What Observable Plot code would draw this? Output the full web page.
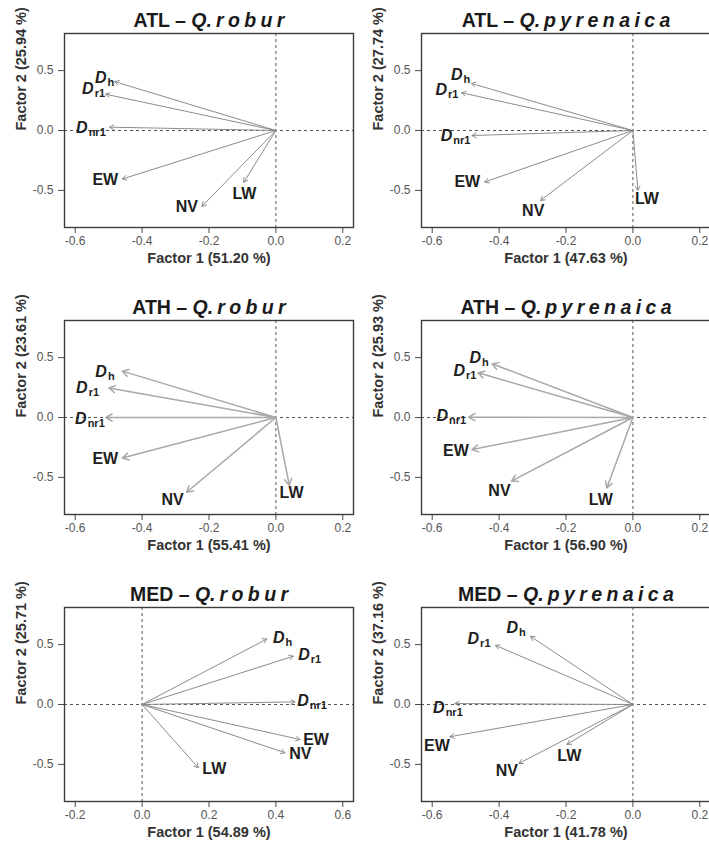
<!DOCTYPE html>
<html>
<head>
<meta charset="utf-8">
<script src="https://cdn.jsdelivr.net/npm/d3@7"></script>
<script src="https://cdn.jsdelivr.net/npm/@observablehq/plot@0.6"></script>
<style>
  body { margin: 0; background: #fff; font-family: "Liberation Sans", Arial, sans-serif; }
  #chart { position: relative; width: 709px; height: 848px; overflow: hidden; background: #fff; }
  .panel { position: absolute; width: 356px; height: 287px; }
  .title { position: absolute; left: 64px; width: 290px; top: 0; height: 31px; line-height: 31px; padding-top: 5px;
           text-align: center; font-weight: bold; font-size: 19.5px; color: #1a1a1a; white-space: nowrap; }
  .title .gen { font-style: italic; }
  .title .sp { font-style: italic; letter-spacing: 4.4px; margin-left: 4px; margin-right: -4.4px; }
  .panel svg { position: absolute; left: 0; top: 31px; }
  .panel svg g[aria-label*="axis"] text { font-size: 12px !important; fill: #555 !important; }
</style>
</head>
<body>
<div id="chart"></div>
<script>
// ---------- data ----------
const vars = ["Dh", "Dr1", "Dnr1", "EW", "NV", "LW"];

const regions = ["ATL", "ATL", "ATH", "ATH", "MED", "MED"];
const species = ["robur", "pyrenaica", "robur", "pyrenaica", "robur", "pyrenaica"];
const factor1Pct = [51.20, 47.63, 55.41, 56.90, 54.89, 41.78];
const factor2Pct = [25.94, 27.74, 23.61, 25.93, 25.71, 37.16];

const ticksNeg = [-0.6, -0.4, -0.2, 0.0, 0.2];
const ticksPos = [-0.2, 0.0, 0.2, 0.4, 0.6];
const yTicks = [-0.5, 0.0, 0.5];
const yLimits = [-0.75, 0.75];

// loadings (Factor 1, Factor 2) and label positions, order = vars
const atlRoburF1 = [-0.482, -0.509, -0.497, -0.459, -0.221, -0.096];
const atlRoburF2 = [0.408, 0.303, 0.028, -0.405, -0.633, -0.433];
const atlRoburLabF1 = [-0.512, -0.545, -0.553, -0.510, -0.266, -0.094];
const atlRoburLabF2 = [0.443, 0.346, 0.020, -0.415, -0.637, -0.526];

const atlPyrF1 = [-0.483, -0.512, -0.481, -0.443, -0.276, 0.015];
const atlPyrF2 = [0.393, 0.315, -0.042, -0.430, -0.584, -0.500];
const atlPyrLabF1 = [-0.515, -0.556, -0.530, -0.495, -0.298, 0.042];
const atlPyrLabF2 = [0.462, 0.337, -0.045, -0.433, -0.674, -0.573];

const athRoburF1 = [-0.459, -0.499, -0.508, -0.459, -0.267, 0.040];
const athRoburF2 = [0.387, 0.246, 0.000, -0.339, -0.624, -0.565];
const athRoburLabF1 = [-0.511, -0.563, -0.556, -0.510, -0.309, 0.047];
const athRoburLabF2 = [0.381, 0.246, -0.008, -0.347, -0.692, -0.630];

const athPyrF1 = [-0.421, -0.463, -0.491, -0.481, -0.363, -0.078];
const athPyrF2 = [0.449, 0.373, 0.003, -0.268, -0.531, -0.588];
const athPyrLabF1 = [-0.460, -0.502, -0.543, -0.529, -0.399, -0.096];
const athPyrLabF2 = [0.494, 0.387, 0.011, -0.277, -0.610, -0.692];

const medRoburF1 = [0.373, 0.452, 0.457, 0.472, 0.427, 0.168];
const medRoburF2 = [0.547, 0.403, 0.022, -0.292, -0.403, -0.528];
const medRoburLabF1 = [0.420, 0.501, 0.508, 0.520, 0.473, 0.216];
const medRoburLabF2 = [0.556, 0.411, 0.030, -0.297, -0.411, -0.536];

const medPyrF1 = [-0.306, -0.411, -0.532, -0.547, -0.341, -0.197];
const medPyrF2 = [0.569, 0.494, 0.008, -0.269, -0.492, -0.333];
const medPyrLabF1 = [-0.349, -0.460, -0.553, -0.586, -0.377, -0.190];
const medPyrLabF2 = [0.639, 0.547, -0.028, -0.342, -0.556, -0.425];

// ---------- build ----------
const loadings = [
  [atlRoburF1, atlRoburF2, atlRoburLabF1, atlRoburLabF2, ticksNeg],
  [atlPyrF1, atlPyrF2, atlPyrLabF1, atlPyrLabF2, ticksNeg],
  [athRoburF1, athRoburF2, athRoburLabF1, athRoburLabF2, ticksNeg],
  [athPyrF1, athPyrF2, athPyrLabF1, athPyrLabF2, ticksNeg],
  [medRoburF1, medRoburF2, medRoburLabF1, medRoburLabF2, ticksPos],
  [medPyrF1, medPyrF2, medPyrLabF1, medPyrLabF2, ticksNeg]
];

// R-style 4% axis expansion
const expand = ([a, b]) => { const s = (b - a) * 0.04; return [a - s, b + s]; };
const fmt = d => d.toFixed(1);
const ns = "http://www.w3.org/2000/svg";

function subscriptify(svg) {
  svg.querySelectorAll("text").forEach(t => {
    const m = /^D(h|r1|nr1)$/.exec(t.textContent);
    if (!m) return;
    t.textContent = "";
    const a = document.createElementNS(ns, "tspan");
    a.textContent = "D";
    a.setAttribute("font-style", "italic");
    const b = document.createElementNS(ns, "tspan");
    b.textContent = m[1];
    b.setAttribute("font-size", "11");
    b.setAttribute("dy", "3");
    b.setAttribute("dx", "1");
    t.append(a, b);
  });
}

const chart = document.getElementById("chart");

loadings.forEach(([F1, F2, LF1, LF2, xt], i) => {
  const row = Math.floor(i / 2), col = i % 2;
  const rows = vars.map((v, k) => ({label: v, f1: F1[k], f2: F2[k], lx: LF1[k], ly: LF2[k]}));
  const mid = row === 1;
  const arrowColor = mid ? "#a8a8a8" : "#8c8c8c";
  const arrowWidth = mid ? 1.5 : 1;

  const panel = document.createElement("div");
  panel.className = "panel";
  panel.style.left = (col * 357) + "px";
  panel.style.top = (row * 287) + "px";

  const title = document.createElement("div");
  title.className = "title";
  title.innerHTML = `<span>${regions[i]} – </span><span class="gen">Q.</span><span class="sp">${species[i]}</span>`;
  panel.appendChild(title);

  const svg = Plot.plot({
    width: 356,
    height: 250,
    marginLeft: 64,
    marginRight: 3,
    marginTop: 2,
    marginBottom: 54,
    style: {fontFamily: "'Liberation Sans', Arial, sans-serif", fontSize: "12px", color: "#4a4a4a", background: "transparent", overflow: "visible"},
    x: {domain: expand([xt[0], xt[xt.length - 1]]), ticks: xt, tickFormat: fmt, tickSize: 6, tickPadding: 3, label: null},
    y: {domain: expand(yLimits), ticks: yTicks, tickFormat: fmt, tickSize: 6, tickPadding: 5, label: null},
    marks: [
      Plot.ruleX([0], {stroke: "#555", strokeWidth: 1, strokeDasharray: "3,3"}),
      Plot.ruleY([0], {stroke: "#555", strokeWidth: 1, strokeDasharray: "3,3"}),
      Plot.frame({stroke: "#3c3c3c", strokeWidth: 1.4}),
      Plot.arrow(rows, {x1: () => 0, y1: () => 0, x2: "f1", y2: "f2",
                        stroke: arrowColor, strokeWidth: arrowWidth, headLength: 7, headAngle: 60}),
      Plot.text(rows, {x: "lx", y: "ly", text: "label", fontSize: 16, fontWeight: "bold", fill: "#1e1e1e"}),
      Plot.text([`Factor 1 (${factor1Pct[i].toFixed(2)} %)`], {text: d => d, frameAnchor: "bottom", dy: 35.5,
                  fontSize: 14.5, fontWeight: "bold", fill: "#333"}),
      Plot.text([`Factor 2 (${factor2Pct[i].toFixed(2)} %)`], {text: d => d, frameAnchor: "left", dx: -43, rotate: -90,
                  fontSize: 14.5, fontWeight: "bold", fill: "#333"})
    ]
  });
  subscriptify(svg);
  panel.appendChild(svg);
  chart.appendChild(panel);
});
</script>
</body>
</html>
